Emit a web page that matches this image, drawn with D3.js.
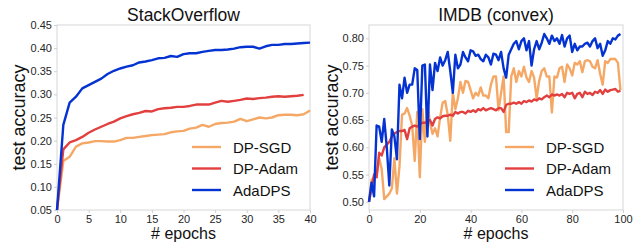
<!DOCTYPE html>
<html>
<head>
<meta charset="utf-8">
<script src="https://cdn.jsdelivr.net/npm/d3@7"></script>
<style>
  body { margin: 0; background: #fff; }
  text { font-family: "Liberation Sans", Arial, sans-serif; }
</style>
</head>
<body>
<svg id="chart" width="637" height="243"></svg>
<script>
// ---- data ----
const seriesNames = ['DP-SGD', 'DP-Adam', 'AdaDPS'];
const seriesColors = ['#f5a866', '#e2403f', '#0433d2'];

// StackOverflow (epochs 0..40)
const soSGD = [0.05, 0.156, 0.165, 0.187, 0.194, 0.196, 0.199, 0.199, 0.198, 0.198, 0.201,
  0.206, 0.206, 0.208, 0.210, 0.212, 0.213, 0.214, 0.218, 0.220, 0.221,
  0.226, 0.228, 0.234, 0.230, 0.236, 0.238, 0.239, 0.241, 0.247, 0.242,
  0.246, 0.250, 0.248, 0.250, 0.255, 0.256, 0.256, 0.255, 0.257, 0.265];
const soAdam = [0.05, 0.181, 0.196, 0.201, 0.208, 0.217, 0.224, 0.230, 0.236, 0.241, 0.248,
  0.253, 0.257, 0.260, 0.264, 0.263, 0.268, 0.270, 0.271, 0.273, 0.273,
  0.275, 0.278, 0.278, 0.278, 0.282, 0.286, 0.284, 0.286, 0.288, 0.291,
  0.290, 0.292, 0.293, 0.295, 0.296, 0.295, 0.296, 0.297, 0.299];
const soAdaDPS = [0.05, 0.234, 0.282, 0.295, 0.313, 0.320, 0.327, 0.334, 0.344, 0.351, 0.356,
  0.360, 0.363, 0.369, 0.371, 0.374, 0.378, 0.379, 0.383, 0.381, 0.387,
  0.389, 0.389, 0.392, 0.394, 0.396, 0.396, 0.397, 0.399, 0.402, 0.403,
  0.403, 0.399, 0.404, 0.407, 0.407, 0.409, 0.409, 0.410, 0.411, 0.412];

// IMDB convex (epochs 0..99)
const imdbSGD = [0.50, 0.54, 0.545, 0.55, 0.58, 0.56, 0.505, 0.51, 0.515, 0.525,
  0.58, 0.515, 0.565, 0.66, 0.662, 0.672, 0.658, 0.64, 0.575, 0.665,
  0.545, 0.67, 0.61, 0.68, 0.645, 0.625, 0.635, 0.62, 0.655, 0.682,
  0.685, 0.66, 0.612, 0.70, 0.67, 0.69, 0.72, 0.70, 0.722, 0.72,
  0.705, 0.69, 0.70, 0.695, 0.71, 0.695, 0.695, 0.69, 0.715, 0.73,
  0.73, 0.668, 0.70, 0.73, 0.628, 0.628, 0.73, 0.745, 0.72, 0.74,
  0.73, 0.748, 0.728, 0.72, 0.74, 0.728, 0.69, 0.722, 0.74, 0.745,
  0.73, 0.73, 0.664, 0.73, 0.728, 0.745, 0.748, 0.72, 0.752, 0.745,
  0.732, 0.755, 0.752, 0.758, 0.738, 0.758, 0.76, 0.758, 0.748, 0.745,
  0.76, 0.735, 0.715, 0.758, 0.755, 0.762, 0.762, 0.762, 0.755, 0.705];
const imdbAdam = [0.50, 0.525, 0.55, 0.545, 0.59, 0.585, 0.60, 0.605, 0.61, 0.62,
  0.625, 0.628, 0.63, 0.63, 0.632, 0.615, 0.635, 0.638, 0.64, 0.638,
  0.642, 0.645, 0.645, 0.647, 0.65, 0.64, 0.652, 0.655, 0.653, 0.657,
  0.658, 0.658, 0.66, 0.658, 0.665, 0.662, 0.665, 0.665, 0.662, 0.667,
  0.665, 0.668, 0.665, 0.67, 0.668, 0.672, 0.668, 0.67, 0.672, 0.67,
  0.668, 0.672, 0.672, 0.665, 0.678, 0.68, 0.68, 0.682, 0.68, 0.683,
  0.68, 0.685, 0.683, 0.686, 0.684, 0.688, 0.686, 0.69, 0.688, 0.692,
  0.695, 0.692, 0.697, 0.695, 0.697, 0.695, 0.698, 0.692, 0.70, 0.698,
  0.70, 0.69, 0.698, 0.70, 0.692, 0.702, 0.698, 0.70, 0.696, 0.702,
  0.70, 0.705, 0.698, 0.706, 0.702, 0.705, 0.706, 0.707, 0.702, 0.704];
const imdbAdaDPS = [0.50, 0.535, 0.51, 0.64, 0.638, 0.61, 0.652, 0.60, 0.53, 0.633,
  0.62, 0.578, 0.715, 0.69, 0.728, 0.70, 0.715, 0.715, 0.745, 0.742,
  0.615, 0.75, 0.752, 0.62, 0.752, 0.705, 0.755, 0.74, 0.765, 0.75,
  0.76, 0.775, 0.74, 0.70, 0.77, 0.745, 0.752, 0.775, 0.765, 0.758,
  0.778, 0.776, 0.768, 0.77, 0.762, 0.758, 0.77, 0.765, 0.752, 0.772,
  0.77, 0.76, 0.775, 0.745, 0.728, 0.77, 0.78, 0.79, 0.795, 0.78,
  0.795, 0.80, 0.778, 0.795, 0.75, 0.78, 0.795, 0.78, 0.792, 0.808,
  0.80, 0.79, 0.805, 0.795, 0.80, 0.79, 0.806, 0.785, 0.80, 0.805,
  0.775, 0.79, 0.778, 0.785, 0.785, 0.79, 0.792, 0.785, 0.795, 0.80,
  0.782, 0.79, 0.768, 0.778, 0.795, 0.79, 0.80, 0.798, 0.805, 0.808];

const soYTicks = [0.05, 0.10, 0.15, 0.20, 0.25, 0.30, 0.35, 0.40, 0.45];
const soXTicks = [0, 5, 10, 15, 20, 25, 30, 35, 40];
const imdbYTicks = [0.50, 0.55, 0.60, 0.65, 0.70, 0.75, 0.80];
const imdbXTicks = [0, 20, 40, 60, 80, 100];

// ---- drawing ----
const svg = d3.select('#chart');

const drawPanel = (props) => {
  const { left, right, top, bottom, title, xDomain, yDomain, xTicks, yTicks, series, legendX, labelX } = props;

  const x = d3.scaleLinear().domain(xDomain).range([left, right]);
  const y = d3.scaleLinear().domain(yDomain).range([bottom, top]);
  const g = svg.append('g');

  // frame
  g.append('rect')
    .attr('x', left).attr('y', top)
    .attr('width', right - left).attr('height', bottom - top)
    .attr('fill', 'none').attr('stroke', '#dedede').attr('stroke-width', 1.2);

  // axes
  const xAxis = g.append('g').attr('transform', `translate(0,${bottom})`)
    .call(d3.axisBottom(x).tickValues(xTicks).tickSize(3).tickPadding(2).tickFormat(d3.format('d')));
  const yAxis = g.append('g').attr('transform', `translate(${left},0)`)
    .call(d3.axisLeft(y).tickValues(yTicks).tickSize(3).tickPadding(2).tickFormat(d3.format('.2f')));
  [xAxis, yAxis].forEach(a => {
    a.select('.domain').remove();
    a.selectAll('line').attr('stroke', '#cfcfcf');
    a.selectAll('text').attr('fill', '#262626').style('font-size', '11px');
  });

  // lines
  const line = d3.line().x((d, i) => x(i)).y(d => y(d));
  g.selectAll('path.series').data(series).join('path')
    .attr('class', 'series')
    .attr('d', d => line(d.values))
    .attr('fill', 'none')
    .attr('stroke', d => d.color)
    .attr('stroke-width', 2.4)
    .attr('stroke-linejoin', 'round');

  // title and labels
  g.append('text')
    .attr('x', (left + right) / 2).attr('y', 21)
    .attr('text-anchor', 'middle').style('font-size', '17.5px').attr('fill', '#111')
    .text(title);
  g.append('text')
    .attr('x', (left + right) / 2).attr('y', 239)
    .attr('text-anchor', 'middle').style('font-size', '16px').attr('fill', '#111')
    .text('# epochs');
  g.append('text')
    .attr('transform', `translate(${labelX},${(top + bottom) / 2}) rotate(-90)`)
    .attr('text-anchor', 'middle').style('font-size', '18px').attr('fill', '#111')
    .text('test accuracy');

  // legend
  const legend = g.selectAll('g.legend').data(series).join('g')
    .attr('class', 'legend')
    .attr('transform', (d, i) => `translate(${legendX},${147 + i * 21.5})`);
  legend.append('line')
    .attr('x1', 0).attr('x2', 29)
    .attr('stroke', d => d.color).attr('stroke-width', 2.4);
  legend.append('text')
    .attr('x', 41).attr('y', 5.5)
    .style('font-size', '15px').attr('fill', '#111')
    .text(d => d.name);
};

drawPanel({
  left: 57, right: 310, top: 25, bottom: 210,
  title: 'StackOverflow',
  xDomain: [0, 40], yDomain: [0.05, 0.45],
  xTicks: soXTicks, yTicks: soYTicks,
  legendX: 192, labelX: 25,
  series: [soSGD, soAdam, soAdaDPS].map((v, i) => ({ name: seriesNames[i], color: seriesColors[i], values: v }))
});

drawPanel({
  left: 369, right: 623, top: 25, bottom: 210,
  title: 'IMDB (convex)',
  xDomain: [0, 100], yDomain: [0.485, 0.8245],
  xTicks: imdbXTicks, yTicks: imdbYTicks,
  legendX: 505, labelX: 338,
  series: [imdbSGD, imdbAdam, imdbAdaDPS].map((v, i) => ({ name: seriesNames[i], color: seriesColors[i], values: v }))
});
</script>
</body>
</html>
